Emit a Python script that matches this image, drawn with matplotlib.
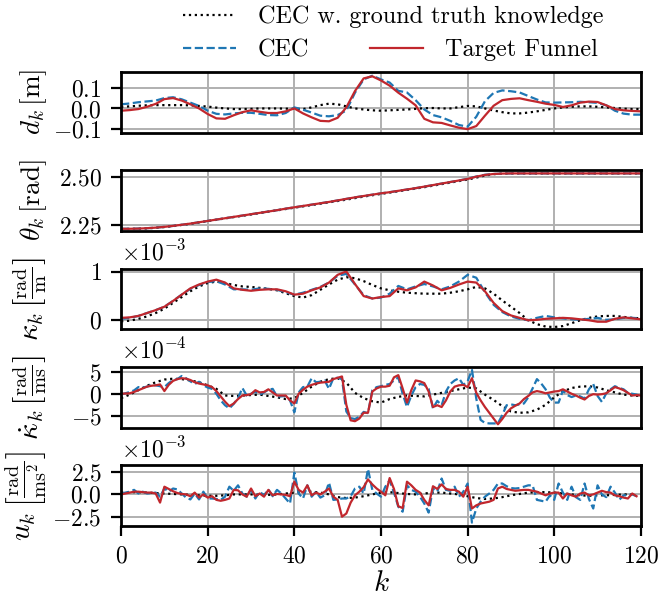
import numpy as np
import matplotlib
matplotlib.use("Agg")
import matplotlib.pyplot as plt

# ---------------- data ----------------
k_state = np.arange(0, 121, 2)

d_gt = [0.008, 0.01, 0.013, 0.015, 0.016, 0.016, 0.016, 0.016, 0.015, 0.012, 0.009,
        0.004, 0.0, -0.003, -0.003, -0.002, 0.0, 0.0, 0.0, -0.001, -0.002,
        -0.003, 0.005, 0.016, 0.023, 0.02, 0.01, 0.0, -0.005, -0.009, -0.011,
        -0.009, -0.007, -0.005, -0.002, 0.001, 0.002, 0.0, 0.0, 0.006, 0.012,
        0.01, 0.0, -0.01, -0.018, -0.024, -0.024, -0.02, -0.014, -0.007, 0.0,
        0.005, 0.008, 0.01, 0.01, 0.008, 0.005, 0.002, -0.001, -0.003, -0.003]
d_cec = [0.02, 0.024, 0.03, 0.034, 0.038, 0.05, 0.054, 0.044, 0.028, 0.012, -0.011,
         -0.026, -0.029, -0.024, -0.021, -0.021, -0.026, -0.032, -0.033, -0.022, 0.005,
         -0.006, -0.02, -0.035, -0.038, -0.032, -0.01, 0.076, 0.14, 0.158, 0.14,
         0.125, 0.085, 0.077, 0.04, -0.005, -0.032, -0.043, -0.06, -0.08, -0.088,
         -0.04, 0.035, 0.075, 0.087, 0.083, 0.077, 0.06, 0.043, 0.029, 0.028,
         0.029, 0.03, 0.032, 0.03, 0.027, 0.015, -0.011, -0.025, -0.03, -0.03]
d_tf = [-0.011, -0.008, -0.003, 0.008, 0.022, 0.045, 0.05, 0.038, 0.02, 0.0, -0.027,
        -0.048, -0.05, -0.033, -0.018, -0.009, -0.016, -0.022, -0.022, -0.014, 0.0,
        -0.024, -0.043, -0.06, -0.062, -0.045, 0.005, 0.084, 0.145, 0.155, 0.135,
        0.11, 0.076, 0.047, 0.015, -0.05, -0.067, -0.07, -0.082, -0.093, -0.1,
        -0.085, -0.035, 0.013, 0.04, 0.046, 0.049, 0.04, 0.032, 0.023, 0.017,
        0.007, 0.015, 0.028, 0.033, 0.031, 0.015, -0.003, -0.009, -0.012, -0.014]

theta_tf = [2.230, 2.230, 2.231, 2.233, 2.236, 2.240, 2.245, 2.251, 2.257, 2.264, 2.271,
            2.278, 2.285, 2.292, 2.299, 2.306, 2.313, 2.320, 2.327, 2.335, 2.342,
            2.349, 2.356, 2.363, 2.370, 2.378, 2.386, 2.394, 2.401, 2.408, 2.415,
            2.421, 2.428, 2.435, 2.442, 2.450, 2.458, 2.466, 2.474, 2.482, 2.490,
            2.502, 2.511, 2.516, 2.518, 2.519, 2.519, 2.519, 2.519, 2.519, 2.519,
            2.519, 2.519, 2.519, 2.519, 2.519, 2.519, 2.519, 2.519, 2.519, 2.519]
theta_cec = [2.230, 2.230, 2.231, 2.233, 2.236, 2.240, 2.245, 2.251, 2.257, 2.264, 2.271,
             2.278, 2.285, 2.292, 2.299, 2.306, 2.313, 2.320, 2.327, 2.335, 2.342,
             2.349, 2.356, 2.363, 2.370, 2.378, 2.386, 2.394, 2.401, 2.408, 2.415,
             2.421, 2.428, 2.435, 2.442, 2.450, 2.458, 2.466, 2.474, 2.482, 2.491,
             2.503, 2.512, 2.516, 2.518, 2.519, 2.519, 2.519, 2.519, 2.519, 2.519,
             2.519, 2.519, 2.519, 2.519, 2.519, 2.519, 2.519, 2.519, 2.519, 2.519]
theta_gt = [2.229, 2.229, 2.230, 2.232, 2.235, 2.239, 2.244, 2.250, 2.256, 2.263, 2.270,
            2.277, 2.284, 2.291, 2.298, 2.305, 2.312, 2.319, 2.326, 2.333, 2.340,
            2.347, 2.354, 2.361, 2.368, 2.375, 2.382, 2.390, 2.398, 2.405, 2.412,
            2.419, 2.426, 2.433, 2.440, 2.447, 2.455, 2.463, 2.471, 2.479, 2.487,
            2.497, 2.508, 2.515, 2.518, 2.519, 2.519, 2.519, 2.519, 2.519, 2.519,
            2.519, 2.519, 2.519, 2.519, 2.519, 2.519, 2.519, 2.519, 2.519, 2.519]

kappa_gt = [-0.02, -0.01, 0.03, 0.08, 0.15, 0.24, 0.36, 0.48, 0.60, 0.70, 0.77,
            0.80, 0.77, 0.73, 0.70, 0.69, 0.67, 0.65, 0.62, 0.56, 0.50,
            0.47, 0.52, 0.63, 0.74, 0.84, 0.89, 0.87, 0.81, 0.73, 0.66,
            0.62, 0.59, 0.57, 0.56, 0.55, 0.55, 0.55, 0.57, 0.60, 0.64,
            0.69, 0.66, 0.55, 0.41, 0.28, 0.15, 0.0, -0.08, -0.13, -0.14,
            -0.12, -0.06, 0.0, 0.05, 0.08, 0.09, 0.09, 0.07, 0.05, 0.04]
kappa_cec = [0.03, 0.05, 0.09, 0.15, 0.21, 0.28, 0.40, 0.53, 0.65, 0.73, 0.79,
             0.81, 0.74, 0.64, 0.64, 0.63, 0.66, 0.65, 0.63, 0.58, 0.53,
             0.57, 0.63, 0.69, 0.78, 0.92, 0.96, 0.74, 0.52, 0.45, 0.47,
             0.55, 0.71, 0.64, 0.70, 0.75, 0.70, 0.64, 0.70, 0.80, 0.94,
             0.88, 0.58, 0.32, 0.17, 0.08, 0.03, 0.0, 0.05, 0.09, 0.06,
             0.04, 0.02, 0.01, 0.03, 0.05, 0.01, 0.02, 0.05, 0.05, 0.04]
kappa_tf = [0.05, 0.06, 0.09, 0.15, 0.21, 0.28, 0.40, 0.53, 0.66, 0.74, 0.80,
            0.84, 0.78, 0.66, 0.63, 0.61, 0.63, 0.64, 0.64, 0.60, 0.53,
            0.55, 0.62, 0.68, 0.78, 0.94, 1.01, 0.75, 0.50, 0.45, 0.48,
            0.50, 0.66, 0.62, 0.68, 0.80, 0.72, 0.62, 0.67, 0.74, 0.80,
            0.78, 0.60, 0.36, 0.19, 0.10, 0.05, 0.0, 0.01, 0.03, 0.04,
            0.05, 0.04, 0.02, 0.0, -0.03, -0.03, 0.03, 0.06, 0.04, 0.02]

k_all = np.arange(0, 121)
kdot_tf = [0.0, 0.05, 0.1, 0.4, 0.8, 1.2, 1.6, 1.8, 1.9, 2.1,
           0.6, 2.0, 2.9, 3.3, 3.5, 3.4, 3.1, 2.6, 2.3, 2.1,
           1.9, 1.5, 0.6, -0.6, -1.8, -2.8, -2.2, -1.2, -0.4, -0.3,
           -0.1, 0.8, 0.3, 0.4, 1.0, 0.3, -0.4, -0.4, -0.4, -1.5,
           -2.2, 0.0, 0.9, 1.6, 2.0, 2.3, 2.5, 2.6, 2.7, 3.3,
           3.6, 3.9, -2.5, -6.0, -6.2, -5.6, -4.3, -4.3, 0.5, 1.2,
           1.6, 1.6, 1.8, 3.7, 4.2, 1.2, -2.0, 0.8, 3.0, 2.8,
           2.4, 0.5, -3.0, -2.6, -3.0, -1.5, 0.5, 1.6, 1.9, 2.0,
           1.5, 3.5, 0.2, -1.5, -3.0, -4.3, -5.6, -6.9, -5.7, -4.3,
           -3.3, -2.7, -2.2, -1.2, -0.5, 0.3, 0.6, 0.4, 0.1, 0.3,
           0.5, 0.6, 1.0, 0.5, 0.0, -0.4, -0.9, -1.3, -0.5, -0.1,
           -0.2, -0.1, 0.1, 0.8, 1.5, 1.2, 0.8, 0.2, -0.4, -0.3,
           -0.4]
kdot_cec = [-0.15, 0.1, 0.4, 0.75, 1.5, 1.4, 1.6, 2.0, 1.9, 1.7,
            1.5, 2.4, 3.1, 3.3, 4.0, 3.5, 2.8, 2.2, 2.7, 1.9,
            1.4, 1.1, 0.0, -1.5, -2.6, -3.3, -2.3, -1.0, 1.3, -0.4,
            0.0, 0.5, -0.2, 0.3, 0.9, 1.1, -0.6, -0.6, -0.5, -1.5,
            -4.2, 0.3, 1.5, 1.6, 3.5, 2.6, 2.7, 3.0, 1.1, 3.5,
            3.6, 3.3, -4.0, -5.5, -5.7, -5.2, -4.1, -4.4, 0.8, 1.5,
            1.7, 2.0, 2.2, 3.0, 3.7, 0.0, -3.0, -0.4, 1.5, 2.2,
            2.0, 1.1, -3.3, -1.6, -2.6, 0.5, 2.2, 3.0, 3.5, 2.0,
            2.8, 5.4, -1.1, -5.9, -6.6, -6.7, -6.7, -6.7, -4.8, -2.6,
            -2.4, -2.6, -2.4, -2.2, -0.8, 1.2, 3.3, 2.3, 1.0, -0.9,
            -2.0, -2.0, 0.75, -0.3, -0.75, -0.4, -0.6, -1.1, 1.0, 2.2,
            -0.5, -1.85, 0.1, 1.0, 1.7, 1.3, 1.0, 0.2, 0.0, -0.2,
            -0.5]
kdot_gt = [-1.0, -0.2, 0.8, 1.8, 2.6, 3.2, 3.4, 3.3, 3.0, 2.6, 1.9,
           1.1, -0.4, -0.5, -0.4, -0.3, -0.2, -0.5, -0.8, -1.2, -1.0,
           0.2, 1.6, 2.7, 3.3, 3.5, 2.5, 0.2, -1.0, -1.7, -2.0,
           -1.2, -0.7, -0.4, -0.5, -0.6, -0.2, 0.2, 0.6, 1.0, 1.4,
           1.2, -0.2, -1.4, -2.8, -4.0, -4.3, -4.2, -3.6, -2.5, -0.8,
           0.5, 1.3, 1.6, 1.7, 1.4, 0.8, 0.3, -0.2, -0.4, -0.5]

k_u = np.arange(0, 120)
u_tf = [0.0, 0.1, 0.2, 0.3, 0.3, 0.25, 0.2, 0.2, 0.1, -0.9,
        0.85, 0.6, 0.35, 0.15, 0.05, 0.0, -0.2, 0.2, -0.35, 0.0,
        -0.35, -0.2, -0.6, -0.7, -0.6, -0.45, 0.5, 0.45, 0.0, -0.25,
        0.65, -0.2, 0.1, -0.25, 0.5, -0.1, 0.05, 0.0, -0.05, -0.2,
        1.4, 0.5, 0.2, 1.0, -0.1, 0.2, 0.0, 0.3, 0.65, -0.25,
        -0.6, -2.45, -2.1, -0.9, -0.1, 0.3, 0.8, 1.65, 1.1, 0.65,
        0.3, -0.1, 1.8, 0.6, -1.3, -1.5, 1.4, 1.0, 0.5, 0.2,
        -0.6, -1.2, 0.9, 0.6, 1.1, 0.6, 0.5, 0.5, 0.3, -0.25,
        0.85, -1.55, -1.2, -1.0, -0.9, -0.8, -0.6, 0.65, 0.85, 0.6,
        0.5, 0.4, 0.45, 0.5, 0.5, 0.4, 0.3, 0.1, -0.1, 0.1,
        0.2, 0.2, -0.45, 0.1, -0.1, -0.25, 0.1, 0.2, -0.1, 0.0,
        0.2, 0.4, 0.25, 0.2, -0.1, -0.2, -0.35, -0.45, 0.1, -0.2]
u_cec = [0.1, 0.2, 0.3, 0.5, 0.1, 0.3, 0.1, 0.15, 0.2, -0.25,
         0.65, 0.3, 0.65, 0.55, 0.1, -0.35, -0.55, 0.1, -0.55, 0.3,
         -0.45, -0.45, -0.5, -0.6, -0.25, 0.85, 0.4, 1.0, 0.1, -0.25,
         0.5, -0.45, 0.3, -0.1, 0.55, -0.2, 0.5, 0.1, -0.45, -1.0,
         2.4, 0.1, -0.45, 1.0, -0.25, 0.3, -0.35, -0.1, 1.3, -0.6,
         -0.55, -0.45, -0.45, -0.2, 0.65, 0.85, 0.1, 2.8, 0.5, 0.1,
         -0.25, 0.85, 1.55, 0.2, -1.35, -1.9, 1.0, 0.5, 0.3, -0.25,
         -1.0, -2.0, 0.65, 0.3, 1.75, 0.5, 0.4, 0.85, -0.25, 0.3,
         1.2, -3.1, -1.55, -0.8, -0.25, 0.1, 0.5, 1.2, 1.2, 0.9,
         0.7, 0.65, 0.7, 0.85, 1.0, 1.0, -0.6, -0.7, -0.8, -0.1,
         -0.6, 1.2, 0.2, -0.6, 0.85, -0.3, -0.6, 1.2, -0.5, -1.55,
         1.0, 0.0, -0.3, 0.85, 0.2, -0.6, -0.1, -0.1, 0.0, -0.2]
k_u_gt = np.arange(0, 120, 2)
u_gt = [0.2, 0.25, 0.25, 0.2, 0.15, 0.1, 0.05, 0.0, -0.05, -0.1,
        -0.15, -0.15, -0.1, 0.0, 0.0, 0.0, -0.05, -0.05, 0.0, 0.1,
        0.2, 0.3, 0.3, 0.2, 0.0, -0.3, -0.4, -0.35, -0.2, 0.0,
        0.2, 0.25, 0.15, 0.05, 0.0, 0.1, 0.2, 0.2, 0.1, 0.0,
        -0.2, -0.4, -0.5, -0.45, -0.3, -0.1, 0.05, 0.2, 0.25, 0.25,
        0.2, 0.1, 0.0, -0.1, -0.15, -0.1, -0.1, -0.05, 0.0, 0.0]

labels = ["CEC w. ground truth knowledge", "CEC", "Target Funnel"]
ylabels = [r"$d_k\,[\mathrm{m}]$",
           r"$\theta_k\,[\mathrm{rad}]$",
           r"$\kappa_k\,\left[\frac{\mathrm{rad}}{\mathrm{m}}\right]$",
           r"$\dot{\kappa}_k\,\left[\frac{\mathrm{rad}}{\mathrm{ms}}\right]$",
           r"$u_k\,\left[\frac{\mathrm{rad}}{\mathrm{ms}^2}\right]$"]
ylabel_sizes = [9.8, 9.8, 10.5, 10.5, 10.5]

# ---------------- style ----------------
plt.rcParams.update({
    "font.family": "serif",
    "font.serif": ["cmr10"],
    "mathtext.fontset": "cm",
    "axes.formatter.use_mathtext": True,
    "font.size": 8.5,
    "axes.linewidth": 1.0,
})

c_gt = "black"
c_cec = "#1f77b4"
c_tf = "#c1272d"
lw = 0.8

fig = plt.figure(figsize=(3.29, 2.99), dpi=200)
gs = fig.add_gridspec(5, 1, left=0.184, right=0.974, top=0.880, bottom=0.120,
                      hspace=0.615)
axes = []
for i in range(5):
    ax = fig.add_subplot(gs[i], sharex=axes[0] if axes else None)
    axes.append(ax)

series = [
    (k_state, d_gt, k_state, d_cec, k_state, d_tf, 1.0),
    (k_state, theta_gt, k_state, theta_cec, k_state, theta_tf, 1.0),
    (k_state, kappa_gt, k_state, kappa_cec, k_state, kappa_tf, 1e-3),
    (k_state, kdot_gt, k_all, kdot_cec, k_all, kdot_tf, 1e-4),
    (k_u_gt, u_gt, k_u, u_cec, k_u, u_tf, 1e-3),
]

handles = None
for ax, (kx1, y1, kx2, y2, kx3, y3, sc) in zip(axes, series):
    h1, = ax.plot(kx1, np.asarray(y1) * sc, color=c_gt, ls=":", lw=lw)
    h2, = ax.plot(kx2, np.asarray(y2) * sc, color=c_cec, ls="--", lw=lw)
    h3, = ax.plot(kx3, np.asarray(y3) * sc, color=c_tf, ls="-", lw=lw)
    handles = [h1, h2, h3]
    ax.grid(True, color="#b0b0b0", lw=0.7)
    ax.set_axisbelow(True)

axes[0].set_xlim(0, 120)
axes[0].set_xticks(np.arange(0, 121, 20))

axes[0].set_ylim(-0.117, 0.177)
axes[0].set_yticks([-0.1, 0.0, 0.1])
axes[1].set_ylim(2.218, 2.536)
axes[1].set_yticks([2.25, 2.50])
axes[2].set_ylim(-0.19e-3, 1.07e-3)
axes[2].set_yticks([0, 1e-3])
axes[3].set_ylim(-7.7e-4, 6.05e-4)
axes[3].set_yticks([-5e-4, 0, 5e-4])
axes[4].set_ylim(-3.5e-3, 3.2e-3)
axes[4].set_yticks([-2.5e-3, 0, 2.5e-3])

axes[0].yaxis.set_major_formatter(matplotlib.ticker.FormatStrFormatter("$%.1f$"))
axes[1].yaxis.set_major_formatter(matplotlib.ticker.FormatStrFormatter("$%.2f$"))
for ax in axes[2:]:
    ax.ticklabel_format(axis="y", style="sci", scilimits=(0, 0))

for ax, yl, fs in zip(axes, ylabels, ylabel_sizes):
    ax.set_ylabel(yl, fontsize=fs)
    ax.yaxis.set_label_coords(-0.138, 0.5)
for ax in axes[:-1]:
    ax.tick_params(axis="x", length=0, labelbottom=False)
axes[-1].set_xlabel(r"$k$", fontsize=10.5, labelpad=1)

fig.legend([handles[0]], [labels[0]], loc="center left",
           bbox_to_anchor=(0.278, 0.972), frameon=False, borderpad=0,
           borderaxespad=0, handlelength=2.2, handletextpad=0.9,
           fontsize=8.7)
fig.legend([handles[1], handles[2]], [labels[1], labels[2]], loc="center left",
           bbox_to_anchor=(0.278, 0.916), frameon=False, borderpad=0,
           borderaxespad=0, handlelength=2.2, handletextpad=0.9, ncol=2,
           columnspacing=2.5, fontsize=8.7)

fig.savefig("out.png", dpi=200)
